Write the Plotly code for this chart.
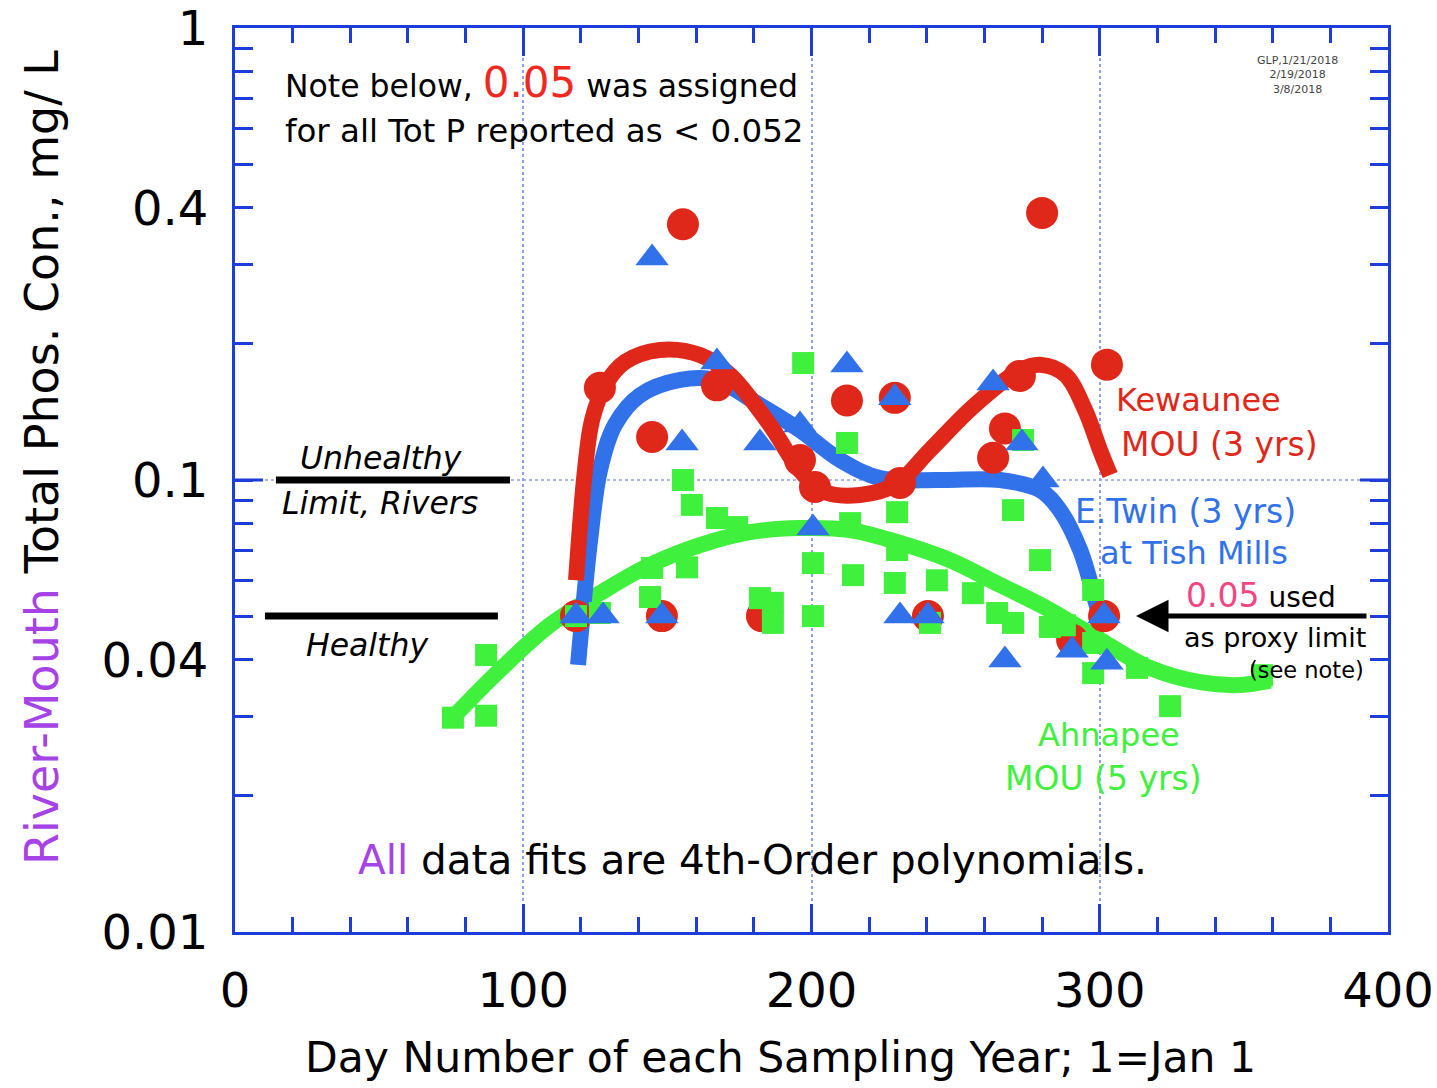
import plotly.graph_objects as go

# ---- Kewaunee River mouth (MOU, 3 yrs) ----
kew_day = [155.4, 280.0, 126.6, 144.7, 167.2, 212.3, 228.9, 302.5, 272.3, 267.1,
           263.0, 196.0, 201.2, 230.7, 118.3, 148.1, 182.8, 240.4, 301.5, 290.4]
kew_tp = [0.368, 0.390, 0.160, 0.1245, 0.162, 0.150, 0.152, 0.180, 0.170, 0.130,
          0.112, 0.1107, 0.0965, 0.0985, 0.05, 0.05, 0.05, 0.05, 0.05, 0.0443]

# ---- East Twin River at Tish Mills (3 yrs) ----
etw_day = [144.7, 167.2, 212.3, 155.1, 182.1, 196.0, 228.9, 263.0, 273.0, 280.3,
           200.5, 118.3, 127.7, 148.1, 230.7, 240.4, 301.5, 267.1, 290.4, 302.5]
etw_tp = [0.310, 0.1825, 0.1797, 0.1208, 0.1208, 0.1324, 0.152, 0.164, 0.1208, 0.100,
          0.0783, 0.05, 0.05, 0.05, 0.05, 0.05, 0.05, 0.040, 0.042, 0.0395]

# ---- Ahnapee River mouth (MOU, 5 yrs) ----
ahn_day = [75.6, 87.1, 87.1, 118.3, 126.6, 144.0, 144.7, 156.8, 155.4, 158.5,
           167.2, 174.2, 182.1, 186.6, 186.6, 197.1, 200.5, 200.5, 212.3, 213.4,
           214.4, 229.7, 229.7, 228.9, 241.1, 243.5, 256.0, 264.4, 269.9, 269.9,
           273.4, 279.3, 282.7, 287.9, 297.7, 297.7, 297.7, 312.9, 324.4, 356.3]
ahn_tp = [0.0298, 0.0301, 0.0410, 0.050, 0.0508, 0.0551, 0.0639, 0.0641, 0.100, 0.0881,
          0.0824, 0.0787, 0.0548, 0.0535, 0.0483, 0.1815, 0.0655, 0.050, 0.1208, 0.0803,
          0.0616, 0.0849, 0.070, 0.0592, 0.0483, 0.060, 0.0562, 0.0508, 0.0483, 0.0858,
          0.1226, 0.0665, 0.0473, 0.0477, 0.0571, 0.0436, 0.0374, 0.0384, 0.0316, 0.0370]

# ---- 4th-order polynomial fit curves (sampled) ----
kew_fit_day = [118.3, 121.4, 123.9, 128.4, 135.3, 147.4, 161.3, 171.7, 185.6, 196.0,
               204.7, 216.8, 228.9, 241.1, 256.7, 272.3, 279.3, 288.0, 294.9, 300.1, 303.6]
kew_fit_tp = [0.060, 0.105, 0.136, 0.162, 0.1825, 0.194, 0.189, 0.171, 0.1324, 0.105,
              0.094, 0.0927, 0.0975, 0.1165, 0.1465, 0.175, 0.180, 0.171, 0.143, 0.1165, 0.1026]

etw_fit_day = [119.0, 120.4, 123.2, 126.6, 131.8, 140.5, 154.4, 166.5, 182.1, 196.0,
               210.0, 223.8, 244.6, 265.4, 279.3, 286.2, 293.2, 298.4, 300.8]
etw_fit_tp = [0.039, 0.049, 0.0737, 0.105, 0.1324, 0.154, 0.1665, 0.1665, 0.1465, 0.129,
              0.1107, 0.101, 0.100, 0.100, 0.095, 0.0857, 0.070, 0.0543, 0.0478]

ahn_fit_day = [75.3, 91.9, 109.3, 126.6, 144.0, 161.3, 178.7, 196.0, 213.4, 230.7,
               248.0, 265.4, 282.7, 300.1, 317.4, 334.8, 348.7, 359.1]
ahn_fit_tp = [0.0297, 0.038, 0.0478, 0.0562, 0.0649, 0.0718, 0.0767, 0.0783, 0.0775, 0.0726,
              0.0665, 0.0586, 0.0516, 0.0443, 0.0384, 0.0357, 0.0352, 0.036]

# ---- River health reference limits ----
limit_unhealthy = 0.1
limit_unhealthy_days = [14.2, 95.4]
limit_healthy = 0.05
limit_healthy_days = [10.4, 91.2]

x_ticks = [0, 100, 200, 300, 400]
y_ticks = [0.01, 0.04, 0.1, 0.4, 1]
y_tick_text = ["0.01", "0.04", "0.1", "0.4", "1"]
y_minor = [0.02, 0.03, 0.05, 0.06, 0.07, 0.08, 0.09,
           0.2, 0.3, 0.5, 0.6, 0.7, 0.8, 0.9]

RED = "#e0281a"
BLUE = "#3172ea"
GREEN = "#3ff03c"
AXIS = "#1d3ddb"
GRID = "#8d9df0"
PURPLE = "#a543e6"
FONT = "DejaVu Sans"

W, H = 1437, 1088
L, R, T, B = 235, 1388, 28, 932


def px(x):
    return (x - L) / (R - L)


def py(y):
    return (B - y) / (B - T)


fig = go.Figure()

# fit curves
fig.add_trace(go.Scatter(x=ahn_fit_day, y=ahn_fit_tp, mode="lines", line_shape="spline",
                         line=dict(color=GREEN, width=16), hoverinfo="skip"))
fig.add_trace(go.Scatter(x=etw_fit_day, y=etw_fit_tp, mode="lines", line_shape="spline",
                         line=dict(color=BLUE, width=16), hoverinfo="skip"))
fig.add_trace(go.Scatter(x=kew_fit_day, y=kew_fit_tp, mode="lines", line_shape="spline",
                         line=dict(color=RED, width=16), hoverinfo="skip"))

# sample points
fig.add_trace(go.Scatter(x=kew_day, y=kew_tp, mode="markers",
                         marker=dict(symbol="circle", size=32, color=RED, line_width=0)))
fig.add_trace(go.Scatter(x=ahn_day, y=ahn_tp, mode="markers",
                         marker=dict(symbol="square", size=22, color=GREEN, line_width=0)))
fig.add_trace(go.Scatter(x=etw_day, y=etw_tp, mode="markers",
                         marker=dict(symbol="triangle-up", size=29, color=BLUE, line_width=0)))

# limit bars
fig.add_trace(go.Scatter(x=limit_unhealthy_days, y=[limit_unhealthy] * 2, mode="lines",
                         line=dict(color="black", width=7), hoverinfo="skip"))
fig.add_trace(go.Scatter(x=limit_healthy_days, y=[limit_healthy] * 2, mode="lines",
                         line=dict(color="black", width=7), hoverinfo="skip"))

tick_frac = 28 / (R - L)
shapes = [
    # dotted grid line at the decade 0.1 (middle of the two-decade log range)
    dict(type="line", xref="paper", yref="paper", x0=0, x1=1, y0=0.5, y1=0.5,
         line=dict(color=GRID, width=1.5, dash="dot"), layer="below"),
    # longer decade ticks at 0.1 on both sides of the frame
    dict(type="line", xref="paper", yref="paper", x0=0, x1=tick_frac, y0=0.5, y1=0.5,
         line=dict(color=AXIS, width=3)),
    dict(type="line", xref="paper", yref="paper", x0=1 - tick_frac, x1=1, y0=0.5, y1=0.5,
         line=dict(color=AXIS, width=3)),
]

ann = []


def text(x, y, s, size, color="black", xanchor="left", yanchor="middle", **kw):
    ann.append(dict(x=px(x), y=py(y), xref="paper", yref="paper", text=s, showarrow=False,
                    xanchor=xanchor, yanchor=yanchor,
                    font=dict(family=FONT, size=size, color=color), **kw))


text(283, 83, "Note below, <span style='color:#f0281e;font-size:42px'>0.05</span> was assigned", 31.5)
text(283, 131, "for all Tot P reported as &lt; 0.052", 32.5)
text(1297, 75, "GLP,1/21/2018<br>2/19/2018<br>3/8/2018", 11, color="#444444",
     xanchor="center", align="center")
text(298, 458, "<i>Unhealthy</i>", 31.5)
text(280, 503, "<i>Limit, Rivers</i>", 31.5)
text(304, 645, "<i>Healthy</i>", 31.5)
text(1114, 400, "Kewaunee", 32, color=RED)
text(1119, 444, "MOU (3 yrs)", 33, color=RED)
text(1073, 511, "E.Twin (3 yrs)", 33, color=BLUE)
text(1098, 553, "at Tish Mills", 32, color=BLUE)
text(1184, 595, "<span style='color:#f24583;font-size:33px'>0.05</span> used", 28)
text(1368, 637, "as proxy limit", 27, xanchor="right")
text(1366, 670, "(see note)", 22.5, xanchor="right")
text(1109, 735, "Ahnapee", 32, color=GREEN, xanchor="center")
text(1103, 778, "MOU (5 yrs)", 33, color=GREEN, xanchor="center")
text(356, 860, "<span style='color:#a543e6'>All</span> data fits are 4th-Order polynomials.", 40.5)
text(780, 1057, "Day Number of each Sampling Year; 1=Jan 1", 42.5, xanchor="center")
ann.append(dict(x=px(42), y=py(458), xref="paper", yref="paper", textangle=-90,
                text="<span style='color:#a543e6'>River-Mouth</span> Total Phos. Con., mg/ L",
                showarrow=False, xanchor="center", yanchor="middle",
                font=dict(family=FONT, size=46, color="black")))
# arrow pointing at the proxy limit
ann.append(dict(x=px(1136), y=py(616), xref="paper", yref="paper", text="",
                showarrow=True, ax=1368 - 1136, ay=0, arrowhead=2, arrowsize=1.3,
                arrowwidth=5, arrowcolor="black"))

fig.update_layout(
    width=W, height=H,
    margin=dict(l=L, r=W - R, t=T, b=H - B, autoexpand=False),
    paper_bgcolor="white", plot_bgcolor="white",
    showlegend=False,
    shapes=shapes, annotations=ann,
    font=dict(family=FONT, color="black"),
)
fig.update_xaxes(
    range=[0, 400], tickvals=x_ticks, ticks="inside", ticklen=28, tickwidth=3,
    tickcolor=AXIS, showline=True, linecolor=AXIS, linewidth=3, mirror="allticks",
    showgrid=True, gridcolor=GRID, griddash="dot", gridwidth=1.5, zeroline=False,
    tickfont=dict(family=FONT, size=48, color="black"), ticklabelstandoff=14,
    automargin=False,
    minor=dict(dtick=20, ticks="inside", ticklen=15, tickwidth=3, tickcolor=AXIS, showgrid=False),
)
fig.update_yaxes(
    type="log", range=[-2, 0.0002], tickvals=y_ticks, ticktext=y_tick_text,
    ticks="inside", ticklen=18, tickwidth=3, tickcolor=AXIS,
    showline=True, linecolor=AXIS, linewidth=3, mirror="allticks",
    showgrid=False, zeroline=False,
    tickfont=dict(family=FONT, size=48, color="black"), ticklabelstandoff=14,
    ticklabeloverflow="allow", automargin=False,
    minor=dict(tickmode="array", tickvals=y_minor, ticks="inside", ticklen=18,
               tickwidth=3, tickcolor=AXIS, showgrid=False),
)

fig.write_html("out.html")
